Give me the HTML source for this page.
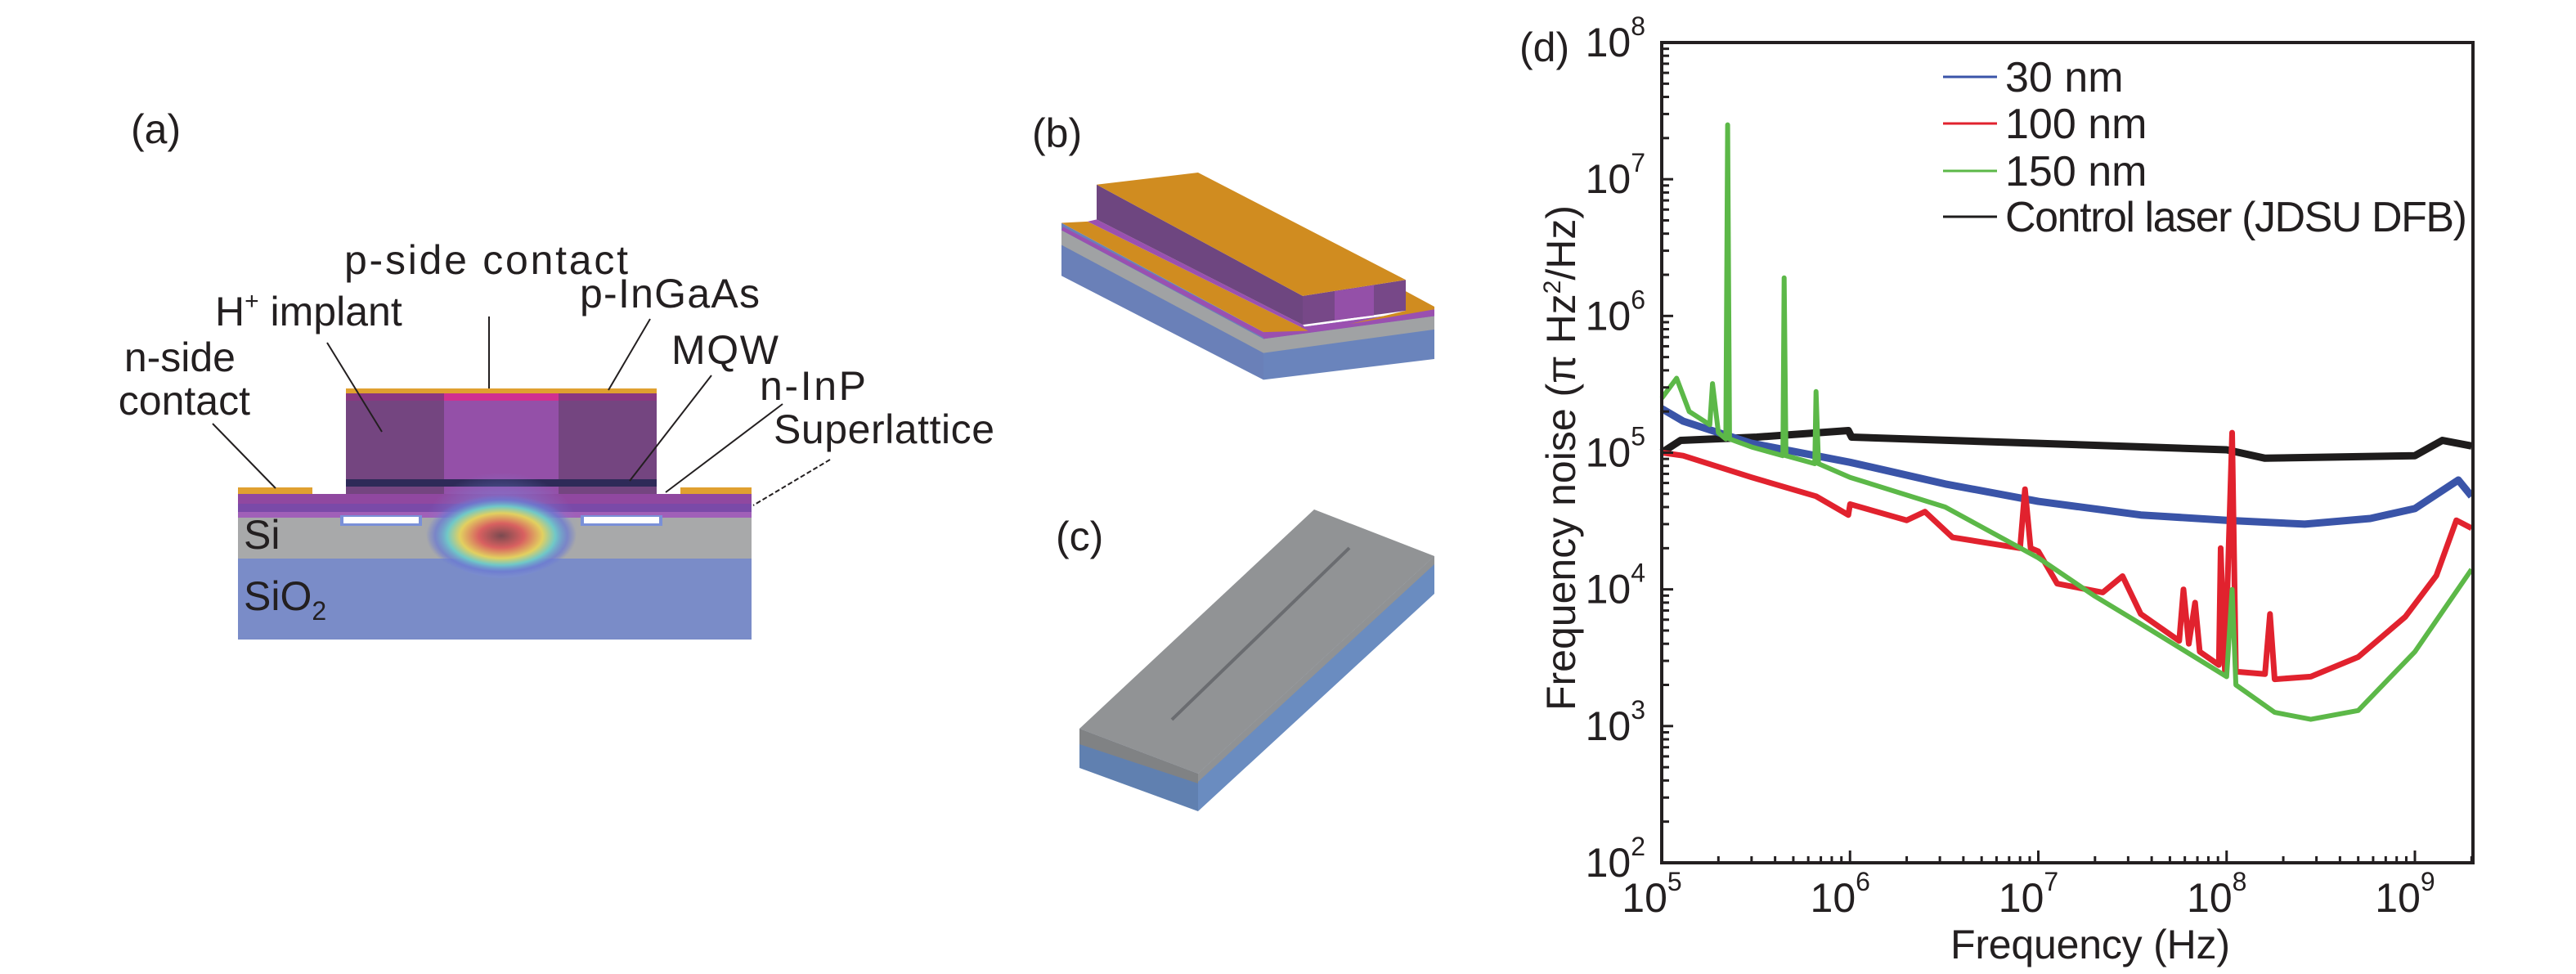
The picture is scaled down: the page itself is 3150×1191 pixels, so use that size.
<!DOCTYPE html>
<html><head><meta charset="utf-8"><style>
html,body{margin:0;padding:0;background:#fff;}
svg{display:block;font-family:"Liberation Sans",sans-serif;}
</style></head><body>
<svg id="root" width="3150" height="1191" viewBox="0 0 3150 1191" xmlns="http://www.w3.org/2000/svg">
<defs>
<radialGradient id="modeG" cx="0.5" cy="0.5" r="0.5">
<stop offset="0" stop-color="#7a4a50"/><stop offset="0.3" stop-color="#d86060"/><stop offset="0.55" stop-color="#e2d060"/><stop offset="0.72" stop-color="#70c8c8"/><stop offset="0.88" stop-color="#6a78d0" stop-opacity="0.7"/><stop offset="1" stop-color="#6a78d0" stop-opacity="0"/>
</radialGradient>
<radialGradient id="haloG" cx="0.5" cy="0.6" r="0.5">
<stop offset="0.5" stop-color="#7a8ae0" stop-opacity="0.55"/><stop offset="1" stop-color="#7a8ae0" stop-opacity="0"/>
</radialGradient>
</defs>

<!-- Panel (a) -->
<g>
<text x="160" y="175" font-size="50" fill="#231f20">(a)</text>
<rect x="291" y="683" width="628" height="99" fill="#7a8cc8"/>
<rect x="291" y="633" width="628" height="50" fill="#a8a9aa"/>
<rect x="291" y="604" width="628" height="12" fill="#9048a0"/>
<rect x="291" y="616" width="628" height="10" fill="#7a4aa8"/>
<rect x="291" y="626" width="628" height="7" fill="#a060b8"/>
<rect x="416" y="630" width="100" height="13" fill="#7a90d8"/>
<rect x="420" y="632" width="92" height="8" fill="#fff"/>
<rect x="710" y="630" width="100" height="13" fill="#7a90d8"/>
<rect x="714" y="632" width="92" height="8" fill="#fff"/>
<rect x="291" y="596" width="91" height="8" fill="#e0a030"/>
<rect x="832" y="596" width="87" height="8" fill="#e0a030"/>
<rect x="423" y="480" width="380" height="124" fill="#744580"/>
<rect x="543" y="480" width="140" height="124" fill="#9450a8"/>
<rect x="423" y="480" width="380" height="10" fill="#8a3880"/>
<rect x="543" y="480" width="140" height="10" fill="#d03090"/>
<rect x="423" y="586" width="380" height="9" fill="#2e2a58"/>
<rect x="423" y="475" width="380" height="6" fill="#e0a030"/>
<ellipse cx="613" cy="635" rx="95" ry="72" fill="url(#haloG)"/>
<ellipse cx="613" cy="655" rx="92" ry="50" fill="url(#modeG)"/>
<g stroke="#231f20" stroke-width="2" fill="none">
<line x1="598" y1="387" x2="598" y2="475"/>
<line x1="400" y1="419" x2="467" y2="528"/>
<line x1="795" y1="390" x2="744" y2="477"/>
<line x1="870" y1="459" x2="770" y2="588"/>
<line x1="957" y1="494" x2="814" y2="602"/>
<line x1="1015" y1="562" x2="921" y2="618" stroke-dasharray="6 3"/>
<line x1="260" y1="518" x2="337" y2="597"/>
</g>
<g font-size="50" fill="#231f20">
<text x="421" y="335" textLength="347">p-side contact</text>
<text x="263" y="398">H<tspan font-size="30" dy="-20">+</tspan><tspan dy="20"> implant</tspan></text>
<text x="709" y="376" textLength="220">p-InGaAs</text>
<text x="821" y="445" textLength="131">MQW</text>
<text x="929" y="489" textLength="130">n-InP</text>
<text x="946" y="542" textLength="270">Superlattice</text>
<text x="288" y="454" text-anchor="end">n-side</text>
<text x="306" y="507" text-anchor="end">contact</text>
<text x="298" y="671">Si</text>
<text x="298" y="746">SiO<tspan font-size="32" dy="12">2</tspan></text>
</g>
</g>

<!-- Panel (b) -->
<g>
<text x="1262" y="180" font-size="50" fill="#231f20">(b)</text>
<g transform="translate(0,211) scale(1,0.82) translate(0,-214)">
<polygon points="1298,289 1545,452 1545,523 1298,368" fill="#6a80b8"/>
<polygon points="1298,300 1545,462 1545,483 1298,322" fill="#a0a2a4"/>
<polygon points="1545,452 1754,418 1754,492 1545,523" fill="#6a84bc"/>
<polygon points="1545,462 1754,428 1754,448 1545,483" fill="#a0a2a4"/>
<polygon points="1545,452 1754,418 1754,428 1545,462" fill="#9a50b0"/>
<polygon points="1298,289 1330,287 1600,450 1545,452" fill="#d08c20"/>
<polygon points="1300,295 1545,452 1545,460 1298,300" fill="#9a50b0"/>
<polygon points="1330,287 1341,284 1593,441 1600,450" fill="#9a50b0"/>
<polygon points="1719,391 1754,414 1754,418 1650,440 1719,420" fill="#d08c20"/>
<polygon points="1341,232 1593,398 1593,441 1341,284" fill="#6e4680"/>
<polygon points="1593,398 1719,374 1719,420 1593,441" fill="#774888"/>
<polygon points="1632,391 1680,382 1680,427 1632,434" fill="#9450a8"/>
<polygon points="1341,232 1465,214 1719,374 1593,398" fill="#d08c20"/>
</g>
</g>

<!-- Panel (c) -->
<g>
<text x="1291" y="673" font-size="50" fill="#231f20">(c)</text>
<polygon points="1320,891 1465,946 1465,992 1320,939" fill="#6080b0"/>
<polygon points="1320,891 1465,946 1465,958 1320,910" fill="#808284"/>
<polygon points="1465,946 1754,680 1754,726 1465,992" fill="#6a8cc0"/>
<polygon points="1465,946 1754,680 1754,690 1465,956" fill="#909294"/>
<polygon points="1320,891 1607,623 1754,680 1465,946" fill="#919395"/>
<line x1="1433" y1="880" x2="1650" y2="670" stroke="#6a6c70" stroke-width="4"/>
</g>

<!-- Panel (d) chart -->
<g id="chart"></g>
</svg>

<script>
// Chart data
const freq30 = [1e5,1.3e5,3e5,1e6,1.7e6,3.2e6,1e7,3.5e7,1e8,2.6e8,5.8e8,1e9,1.7e9,2e9];
const noise30 = [2.1e5,1.7e5,1.17e5,8.5e4,7.2e4,5.9e4,4.4e4,3.5e4,3.2e4,3.0e4,3.3e4,3.9e4,6.3e4,4.8e4];
const freq100 = [1e5,1.3e5,3e5,6.6e5,9.8e5,1e6,2e6,2.5e6,3.5e6,8e6,8.5e6,9.1e6,1e7,1.26e7,2.2e7,2.8e7,3.5e7,5.6e7,5.9e7,6.3e7,6.8e7,7.2e7,9.1e7,9.3e7,9.8e7,1.07e8,1.12e8,1.6e8,1.7e8,1.8e8,2.8e8,5e8,8.9e8,1.3e9,1.66e9,2e9];
const noise100 = [1e5,9.5e4,6.6e4,4.8e4,3.5e4,4.2e4,3.2e4,3.7e4,2.4e4,2e4,5.4e4,2e4,1.9e4,1.1e4,9.5e3,1.25e4,6.6e3,4.2e3,1e4,4e3,8e3,3.5e3,2.8e3,2e4,2.5e3,1.4e5,2.5e3,2.4e3,6.6e3,2.2e3,2.3e3,3.2e3,6.3e3,1.26e4,3.2e4,2.8e4];
const freq150 = [1e5,1.2e5,1.4e5,1.8e5,1.86e5,2e5,2.19e5,2.24e5,2.29e5,3e5,4.4e5,4.47e5,4.57e5,6.5e5,6.6e5,6.8e5,1e6,3.2e6,1e7,2e7,4e7,1e8,1.07e8,1.12e8,1.8e8,2.8e8,5e8,1e9,2e9];
const noise150 = [2.5e5,3.5e5,2e5,1.6e5,3.2e5,1.4e5,1.26e5,2.5e7,1.26e5,1.1e5,9.5e4,1.9e6,9.5e4,8.3e4,2.8e5,8.3e4,6.6e4,4e4,1.7e4,8.9e3,5e3,2.3e3,1e4,2e3,1.26e3,1.12e3,1.3e3,3.5e3,1.4e4];
const freqCtrl = [1e5,1.26e5,3.2e5,9.8e5,1.02e6,1e7,1e8,1.6e8,1e9,1.4e9,2e9];
const noiseCtrl = [1e5,1.23e5,1.3e5,1.45e5,1.3e5,1.17e5,1.05e5,9.1e4,9.5e4,1.23e5,1.12e5];
const xTickExps = [5,6,7,8,9];
const yTickExps = [2,3,4,5,6,7,8];
const legendLabels = ["30 nm","100 nm","150 nm","Control laser (JDSU DFB)"];

const NS = "http://www.w3.org/2000/svg";
const chart = document.getElementById("chart");
const L = 2032, R = 3024, T = 52, B = 1055;
const xMinExp = 5, xDec = 230.25, yMaxExp = 8, yDec = (B - T) / 6;
function xScale(f){ return L + (Math.log10(f) - xMinExp) * xDec; }
function yScale(v){ return T + (yMaxExp - Math.log10(v)) * yDec; }
function mk(tag, attrs, parent){
  const e = document.createElementNS(NS, tag);
  for (const k in attrs) e.setAttribute(k, attrs[k]);
  (parent || chart).appendChild(e);
  return e;
}

const series = [
  {f: freqCtrl, v: noiseCtrl, c: "#1e1c1c", w: 9, n: "series-control-laser"},
  {f: freq30, v: noise30, c: "#3a54a8", w: 9, n: "series-30nm"},
  {f: freq100, v: noise100, c: "#e1222e", w: 7, n: "series-100nm"},
  {f: freq150, v: noise150, c: "#5cb848", w: 6, n: "series-150nm"}
];
series.forEach(s => {
  let d = "";
  s.f.forEach((f, i) => { d += (i ? "L" : "M") + xScale(f).toFixed(1) + "," + yScale(s.v[i]).toFixed(1); });
  const p = mk("path", {d: d, fill: "none", stroke: s.c, "stroke-width": s.w, "stroke-linejoin": "round"});
  
  
});

const frame = mk("rect", {x: L, y: T, width: R - L, height: B - T, fill: "none", stroke: "#231f20", "stroke-width": 4});



xTickExps.forEach(e => {
  for (let m = 1; m <= 9; m++) {
    const f = m * Math.pow(10, e);
    const x = xScale(f);
    if (x > R + 0.5) break;
    const len = m === 1 ? 15 : 8;
    const t = mk("line", {x1: x, y1: B, x2: x, y2: B - len, stroke: "#231f20", "stroke-width": 3});
    
    
  }
  const lab = mk("text", {x: xScale(Math.pow(10, e)) - 12, y: 1115, "font-size": 50, fill: "#231f20", "text-anchor": "middle"});
  
  
  lab.innerHTML = '10<tspan font-size="32" dy="-26">' + e + '</tspan>';
});
yTickExps.forEach(e => {
  if (e < 8) {
    for (let m = 1; m <= 9; m++) {
      const y = yScale(m * Math.pow(10, e));
      const len = m === 1 ? 14 : 9;
      const t = mk("line", {x1: L, y1: y, x2: L + len, y2: y, stroke: "#231f20", "stroke-width": 3});
      
      
    }
  }
  const lab = mk("text", {x: 2012, y: yScale(Math.pow(10, e)) + 17, "font-size": 50, fill: "#231f20", "text-anchor": "end"});
  
  
  lab.innerHTML = '10<tspan font-size="32" dy="-26">' + e + '</tspan>';
});

const xt = mk("text", {x: 2556, y: 1172, "font-size": 50, fill: "#231f20", "text-anchor": "middle", textLength: 342});


xt.textContent = "Frequency (Hz)";
const yt = mk("text", {x: 0, y: 0, "font-size": 50, fill: "#231f20", "text-anchor": "middle", transform: "translate(1926,560) rotate(-90)"});


yt.innerHTML = 'Frequency noise (π Hz<tspan font-size="30" dy="-18">2</tspan><tspan dy="18">/Hz)</tspan>';

const dl = mk("text", {x: 1858, y: 75, "font-size": 50, fill: "#231f20"});


dl.textContent = "(d)";

const legColors = ["#3a54a8", "#e1222e", "#5cb848", "#1e1c1c"];
const legRowY = [94, 151, 209, 265];
legendLabels.forEach((lbl, i) => {
  const y = legRowY[i];
  const ln = mk("line", {x1: 2376, y1: y, x2: 2442, y2: y, stroke: legColors[i], "stroke-width": 3});
  
  
  const tx = mk("text", {x: 2452, y: y + 18, "font-size": 52, fill: "#231f20"});
  if (i === 3) tx.setAttribute("textLength", 565);
  
  
  tx.textContent = lbl;
});
</script>
</body></html>
